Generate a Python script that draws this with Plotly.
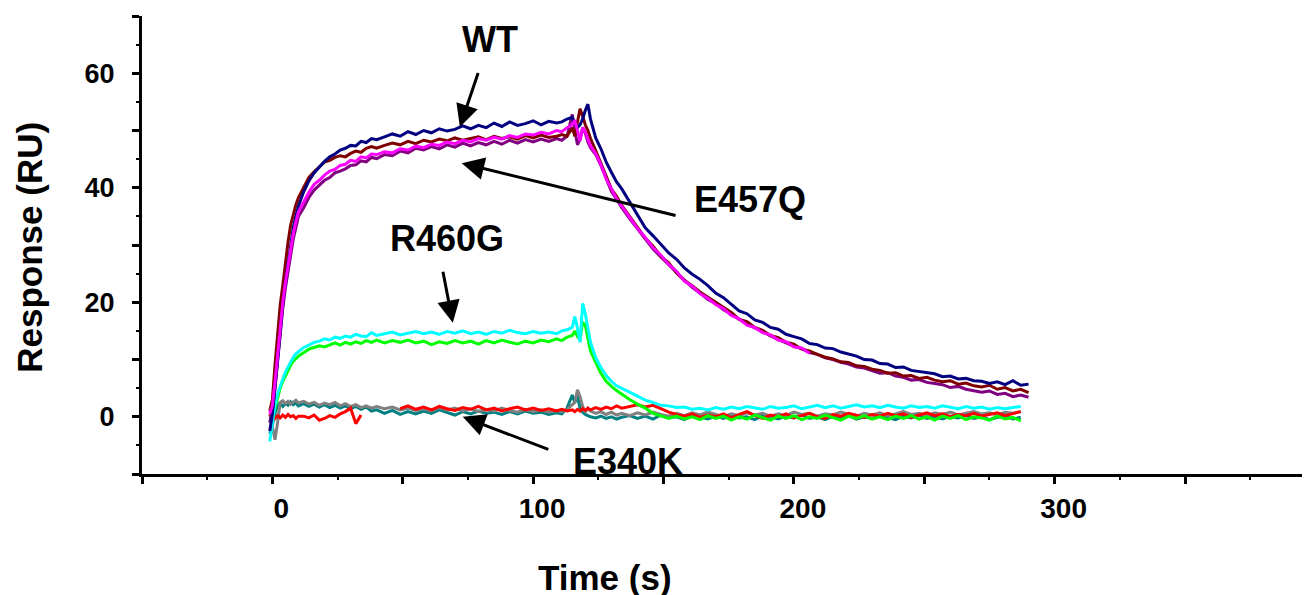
import plotly.graph_objects as go

# ---------------- data ----------------
time_s = [-2, -1, 0, 1, 2, 3, 4, 5, 6, 7, 8, 9, 10,
          12, 14, 16, 18, 20, 22, 24, 26, 28, 30, 32, 34, 36, 38, 40,
          43, 46, 49, 52, 55, 58, 61, 64, 67, 70, 73, 76, 79, 82, 85, 88, 91, 94, 97, 100, 103, 106, 109,
          111, 113,
          115, 116, 117, 118, 119, 120, 121, 122,
          124, 126, 128, 130, 132, 134,
          137, 140, 143, 146, 149, 152, 155, 158, 161, 164,
          167, 170, 173, 176, 179, 182, 185, 188, 191, 194,
          197, 200, 203, 206, 209, 212, 215, 218, 221, 224,
          227, 230, 233, 236, 239, 242, 245, 248, 251, 254,
          257, 260, 263, 266, 269, 272, 275, 278, 281, 284,
          287, 290]

wt_navy = [None, -2.5, 0.5, 5, 10, 15, 19.5, 23.5, 27, 30.5, 33, 35, 36.8,
           39.3, 41.2, 42.6, 43.7, 44.6, 45.4, 45.9, 46.6, 46.9, 47.4, 47.3, 48.1, 47.9, 48.6, 48.4,
           48.9, 49.4, 49.0, 49.8, 49.3, 50.0, 49.6, 50.3, 49.9, 50.2, 50.8, 50.3, 50.9, 50.5, 51.3, 50.7, 51.5, 50.9, 51.2, 51.7, 51.0, 51.6, 51.3,
           51.5, 52.0,
           52.3, 51.2, 50.5, 51.0, 52.0, 53.5, 54.6, 52.0,
           48.7, 46.8, 44.5, 42.7, 41.0, 39.8,
           37.5, 35.2, 33.0, 31.6, 30.0, 28.6, 27.5, 26.0, 24.9, 24.0,
           22.9, 21.6, 20.8, 19.6, 18.5, 18.0, 16.9, 16.5, 15.6, 15.3,
           14.4, 14.0, 13.6, 12.8, 12.6, 12.0, 11.9, 11.3, 10.9, 10.6,
           10.0, 9.9, 9.3, 9.2, 8.6, 8.7, 8.1, 7.9, 7.6, 7.5,
           7.0, 7.1, 6.6, 6.7, 6.3, 6.2, 5.8, 6.1, 5.6, 6.3,
           5.5, 5.7]

maroon = [None, 1.0, 3, 9, 15, 19.5, 23, 27, 30.5, 33.5, 35.5, 37, 38.3,
          40.0, 41.8, 42.8, 43.6, 44.5, 44.8, 45.3, 45.6, 45.4, 46.0, 46.4, 46.2, 46.9, 47.2, 46.9,
          47.4, 47.8, 47.5, 48.1, 47.7, 48.3, 48.0, 48.5, 48.2, 48.7, 48.3, 48.6, 48.9, 48.4, 49.0, 48.6, 48.9, 48.5, 49.1, 48.7, 49.2, 48.8, 49.0,
          49.3, 49.0,
          50.5, 49.0, 51.5, 53.8, 52.5, 51.0, 50.0, 48.6,
          46.5, 44.3, 41.8, 39.8, 38.5, 36.9,
          35.0, 33.0, 31.2, 29.8, 28.0, 26.9, 25.1, 23.8, 22.9, 21.8,
          20.9, 20.0, 19.0, 18.2, 17.0, 16.6, 15.6, 15.1, 14.2, 13.8,
          13.0, 12.7, 11.8, 11.5, 10.9, 10.4, 10.1, 9.6, 9.5, 8.9,
          8.8, 8.3, 8.1, 7.6, 7.7, 7.1, 7.2, 6.7, 6.9, 6.4,
          6.1, 6.3, 5.7, 5.9, 5.4, 5.2, 5.5, 4.8, 5.1, 4.5,
          4.8, 4.2]

purple = [None, -1, 1, 5, 10, 15, 19, 22.5, 25.5, 28.5, 31, 33, 35,
          36.5, 38.3, 39.6, 40.4, 41.3, 41.8, 42.6, 42.9, 43.3, 43.9, 44.0, 44.7, 44.5, 45.3, 45.1,
          45.8, 45.6, 46.4, 46.1, 46.9, 46.6, 47.2, 46.8, 47.5, 47.1, 47.8, 47.3, 47.9, 47.5, 48.1, 47.6, 48.3, 47.8, 48.4, 48.0, 48.5, 48.1, 48.6,
          48.3, 49.0,
          52.8, 50.0, 47.5, 48.5, 50.5, 49.5, 48.0, 47.0,
          45.8, 43.9, 41.5, 39.4, 38.0, 36.5,
          34.6, 32.8, 31.0, 29.3, 27.9, 26.5, 25.2, 23.9, 22.6, 21.6,
          20.5, 19.8, 18.7, 17.9, 17.0, 16.2, 15.5, 14.9, 14.1, 13.5,
          12.9, 12.3, 11.9, 11.2, 10.9, 10.3, 10.0, 9.5, 9.2, 8.7,
          8.5, 8.0, 7.6, 7.7, 7.1, 6.9, 6.4, 6.5, 6.0, 5.8,
          5.6, 5.1, 5.3, 4.8, 4.6, 4.3, 4.5, 3.9, 4.1, 3.5,
          3.8, 3.4]

magenta = [None, 0.5, 2, 6, 11, 16, 20, 23.5, 26.5, 29.5, 32, 34, 35.8,
           37.5, 39.2, 40.6, 41.3, 42.2, 42.9, 43.2, 43.9, 44.1, 44.8, 44.6, 45.4, 45.2, 45.9, 45.8,
           46.3, 46.1, 46.8, 46.6, 47.3, 47.0, 47.6, 47.4, 48.0, 47.7, 48.3, 48.0, 48.6, 48.3, 48.8, 48.5, 49.1, 48.8, 49.4, 49.2, 49.7, 49.4, 50.0,
           49.8, 50.5,
           51.0, 51.8, 50.0, 48.2, 50.5, 49.8, 48.5, 47.3,
           46.0, 44.0, 41.6, 39.9, 38.1, 36.8,
           34.8, 32.9, 31.3, 29.5, 28.2, 26.6, 25.4, 23.7, 22.8, 21.5,
           20.7, 19.6, 18.9, 17.7, 17.1, 16.0, 15.6, 14.7, 14.3, 13.4,
           13.1, 12.2, 12.0, 11.1, None, None, None, None, None, None,
           None, None, None, None, None, None, None, None, None, None,
           None, None, None, None, None, None, None, None, None, None,
           None, None]

cyan = [None, -4.3, -1, 2, 4, 5.5, 6.6, 7.8, 8.7, 9.7, 10.4, 11.0, 11.4,
        12.1, 12.5, 13.0, 13.2, 13.6, 13.4, 13.9, 13.7, 14.1, 13.9, 14.4, 14.1, 14.0, 14.7, 14.2,
        14.5, 14.8, 14.3, 14.6, 14.9, 14.5, 14.8, 14.4, 14.9, 14.6, 15.0, 14.5, 14.8, 14.4, 14.9, 14.6, 15.1, 14.7, 14.5, 14.9, 14.6, 14.8, 14.5,
        15.0, 15.2,
        15.6, 17.5, 15.5, 13.0, 19.8, 18.0, 15.5, 13.0,
        10.3, 8.6, 7.2, 6.2, 5.4, 4.9,
        4.3, 3.6, 2.9, 2.5, 2.0, 1.9, 1.6, 1.7, 1.3, 1.5,
        1.2, 1.6, 1.3, 1.7, 1.4, 1.8, 1.5, 1.3, 1.8, 1.5,
        1.6, 1.9, 1.4, 1.7, 2.0, 1.6, 1.9, 1.5, 1.8, 2.1,
        1.7, 1.9, 1.6, 2.0, 1.7, 1.5, 1.9, 1.6, 1.8, 1.5,
        1.9, 1.6, 1.4, 1.8, 1.5, 1.7, 1.3, 1.6, 1.4, 1.6,
        1.8, None]

green = [None, -1, 0, 1.5, 3.5, 5, 6.2, 7.2, 8.2, 9.0, 9.7, 10.2, 10.6,
         11.2, 11.8, 12.1, 12.4, 12.2, 12.6, 12.9, 12.5, 13.0, 12.7, 13.1, 12.8, 13.3, 13.0, 13.4,
         12.9, 13.3, 13.0, 13.4, 12.9, 13.2, 12.6, 13.1, 12.8, 13.3, 12.9, 13.2, 12.7, 13.3, 12.9, 13.4, 13.0, 12.7, 13.2, 12.9, 13.4, 13.1, 13.6,
         13.3, 13.9,
         14.2, 15.0, 14.0, 13.5, 16.5, 16.0, 13.5, 11.5,
         9.5, 7.6, 6.2, 5.3, 4.6, 3.9,
         3.0, 2.2, 1.5, 0.6, 0.2, -0.3, 0.1, -0.4, 0.0, -0.5,
         0.2, -0.3, 0.1, -0.6, 0.0, -0.4, 0.3, -0.2, -0.6, 0.1,
         -0.3, 0.2, -0.5, 0.0, -0.3, 0.3, -0.2, -0.6, 0.1, -0.3,
         0.2, -0.4, 0.0, -0.5, 0.1, -0.3, 0.2, -0.4, 0.0, -0.6,
         0.1, -0.3, 0.2, -0.5, 0.0, -0.2, -0.6, 0.1, -0.4, -0.1,
         -0.7, None]

teal = [None, -3, -1.5, 0.5, 2.0, 2.4, 1.8, 2.3, 2.0, 2.6, 2.1, 2.4, 1.9,
        2.3, 1.8, 2.2, 1.7, 2.1, 1.6, 2.0, 1.5, 1.9, 1.4, 1.8, 1.3, 1.7, 1.0, 1.2,
        0.6, 1.1, 0.4, 0.9, 0.5, 1.0, 0.6, 1.2, 0.7, 0.3, 0.9, 0.5, 1.0, 0.6, 0.8, 0.4, 0.9, 0.5, 1.0, 0.6, 0.8, 0.4, 0.7,
        0.5, 1.5,
        3.8, 2.5, 3.6, 1.5, 0.8, 0.4, 0.2, 0.0,
        -0.2, 0.1, -0.3, 0.0, -0.4, -0.1,
        0.2, -0.3, 0.1, -0.4, 0.3, -0.2, 0.0, -0.5, 0.2, -0.1,
        -0.4, 0.1, -0.3, 0.3, -0.2, 0.0, -0.5, 0.2, -0.1, -0.4,
        0.1, -0.2, 0.3, -0.3, 0.0, -0.5, 0.1, -0.2, 0.2, -0.4,
        0.0, -0.3, 0.2, -0.1, -0.5, 0.1, -0.2, 0.3, -0.3, 0.0,
        -0.4, 0.1, -0.2, 0.2, -0.3, 0.0, -0.5, -0.1, 0.1, -0.4,
        -0.1, None]

gray = [None, 0.5, -2, -4, -1, 2.5, 2.8, 2.3, 2.7, 2.2, 2.6, 2.9, 2.4,
        2.7, 2.2, 2.5, 2.0, 2.4, 2.1, 2.5, 1.9, 2.3, 1.8, 2.1, 1.6, 1.9, 1.5, 1.8,
        1.4, 1.7, 1.2, 1.5, 1.1, 1.4, 1.0, 1.6, 1.2, 1.5, 1.0, 1.4, 0.9, 1.3, 1.0, 1.5, 1.1, 0.8, 1.3, 0.9, 1.2, 0.8, 1.1,
        0.9, 1.3,
        2.0, 2.5, 4.7, 3.5, 1.8, 0.8, 1.5, 1.0,
        0.6, 0.9, 0.4, 0.8, 0.3, 0.6,
        0.2, 0.7, 0.3, 0.8, 0.4, 0.1, 0.6, 0.2, 0.7, 0.3,
        0.8, 0.4, 0.0, 0.5, 0.2, 0.7, 0.3, 0.6, 0.1, 0.5,
        0.2, 0.8, 0.4, 0.6, 0.1, 0.5, 0.3, 0.8, 0.4, 0.1,
        0.6, 0.3, 0.7, 0.2, 0.5, 0.9, 0.4, 0.6, 0.2, 0.7,
        0.4, 0.8, 0.3, 0.6, 0.9, 0.5, 0.7, 0.3, 0.8, 0.6,
        0.9, None]

red = [None, 0.0, 0.5, -0.3, 0.2, -0.2, 0.3, -0.1, 0.4, 0.0, 0.2, -0.3, 0.1,
       0.1, -0.2, 0.3, -0.6, -0.3, 0.2, -0.1, 0.5, 0.9, 1.5, -1.2, 0.3, None, None, None,
       None, None, 1.4, 1.9, 1.3, 1.7, 1.2, 1.8, 1.4, 1.1, 1.6, 1.3, 1.8, 1.2, 1.5, 1.0, 1.4, 1.7, 1.2, 1.5, 1.1, 1.4, 1.0,
       1.3, 1.0,
       1.2, 0.9, 1.3, 1.0, 1.4, 1.1, 1.5, 1.2,
       1.6, 1.3, 1.7, 1.4, 1.9, 1.5,
       1.8, 2.1, 1.7, 2.0, 1.4, 0.8, 0.4, 0.1, 0.5, -0.1,
       0.3, 0.0, 0.5, -0.2, 0.4, 0.9, 0.2, -0.3, 0.3, 0.0,
       0.5, -0.2, 0.2, 0.6, 0.0, -0.3, 0.4, 0.1, 0.6, 0.2,
       -0.1, 0.4, 0.1, 0.6, 0.2, 0.5, -0.1, 0.3, 0.7, 0.2,
       0.5, 0.0, 0.4, 0.2, 0.6, 0.1, 0.4, 0.7, 0.2, 0.5,
       0.9, None]

series_names = ["teal", "gray", "red", "green", "cyan", "purple", "maroon", "WT", "magenta"]
series_values = [teal, gray, red, green, cyan, purple, maroon, wt_navy, magenta]
series_colors = ["#008080", "#808080", "#FF0000", "#00FF00", "#00FFFF",
                 "#800080", "#800000", "#000080", "#FF00FF"]

y_tickvals = [-10, 0, 10, 20, 30, 40, 50, 60, 70]
y_ticktext = ["", "0", "", "20", "", "40", "", "60", ""]
x_tickvals = [-50, 0, 50, 100, 150, 200, 250, 300, 350]
x_ticktext = ["", "0", "", "100", "", "200", "", "300", ""]

labels = ["WT", "E457Q", "R460G", "E340K"]
label_pos = [(83.4, 65.9), (183.2, 37.9), (66.9, 31.2), (136.4, -7.9)]
arrow_tip = [(71.9, 50.6), (72.6, 44.3), (69.2, 16.4), (73.0, 0.0)]
arrow_tail = [(79.1, 60.3), (155.2, 35.1), (65.3, 25.6), (106.4, -5.8)]

# ---------------- figure ----------------
# the page body adds an 8 px margin, so margins are reduced by 8 px
FONT = "Liberation Sans, Arial, sans-serif"
fig = go.Figure()
for name, vals, col in zip(series_names, series_values, series_colors):
    n = min(len(time_s), len(vals))
    fig.add_trace(go.Scatter(x=time_s[:n], y=vals[:n], mode="lines", name=name,
                             line=dict(color=col, width=3), connectgaps=False,
                             showlegend=False))

annotations = []
for (tx, ty), (hx, hy) in zip(arrow_tip, arrow_tail):
    annotations.append(dict(x=tx, y=ty, ax=hx, ay=hy, xref="x", yref="y",
                            axref="x", ayref="y", text="", showarrow=True,
                            arrowhead=2, arrowsize=1.5, arrowwidth=3,
                            arrowcolor="black"))
for txt, (lx, ly) in zip(labels, label_pos):
    annotations.append(dict(x=lx, y=ly, xref="x", yref="y", text=txt,
                            showarrow=False, xanchor="center", yanchor="middle",
                            font=dict(family=FONT, size=36, color="black", weight="bold")))
annotations.append(dict(x=0.394, y=-0.225, xref="paper", yref="paper", text="Time (s)",
                        showarrow=False, xanchor="center", yanchor="middle",
                        font=dict(family=FONT, size=35, color="black", weight="bold")))
annotations.append(dict(x=-0.0957, y=0.495, xref="paper", yref="paper", text="Response (RU)",
                        textangle=-90, showarrow=False, xanchor="center", yanchor="middle",
                        font=dict(family=FONT, size=35, color="black", weight="bold")))

fig.update_layout(
    width=1310, height=595,
    margin=dict(l=134, r=0, t=8, b=129),
    paper_bgcolor="white", plot_bgcolor="white",
    font=dict(family=FONT, color="black"),
    annotations=annotations,
    xaxis=dict(range=[-50, 401], tickmode="array", tickvals=x_tickvals, ticktext=x_ticktext,
               ticks="outside", ticklen=7, tickwidth=2.5, tickcolor="black",
               showline=True, linewidth=3, linecolor="black", showgrid=False, zeroline=False,
               tickfont=dict(family=FONT, size=28, color="black", weight="bold"),
               ticklabelstandoff=0, ticklabelshift=9,
               minor=dict(dtick=25, tick0=0, ticks="outside", ticklen=3, tickwidth=2,
                          tickcolor="black", showgrid=False)),
    yaxis=dict(range=[-10, 70], tickmode="array", tickvals=y_tickvals, ticktext=y_ticktext,
               ticks="outside", ticklen=7, tickwidth=2.5, tickcolor="black",
               showline=True, linewidth=3, linecolor="black", showgrid=False, zeroline=False,
               tickfont=dict(family=FONT, size=27, color="black", weight="bold"),
               ticklabelstandoff=12,
               minor=dict(dtick=5, tick0=0, ticks="outside", ticklen=3, tickwidth=2,
                          tickcolor="black", showgrid=False)),
)

fig.write_html("out.html")
